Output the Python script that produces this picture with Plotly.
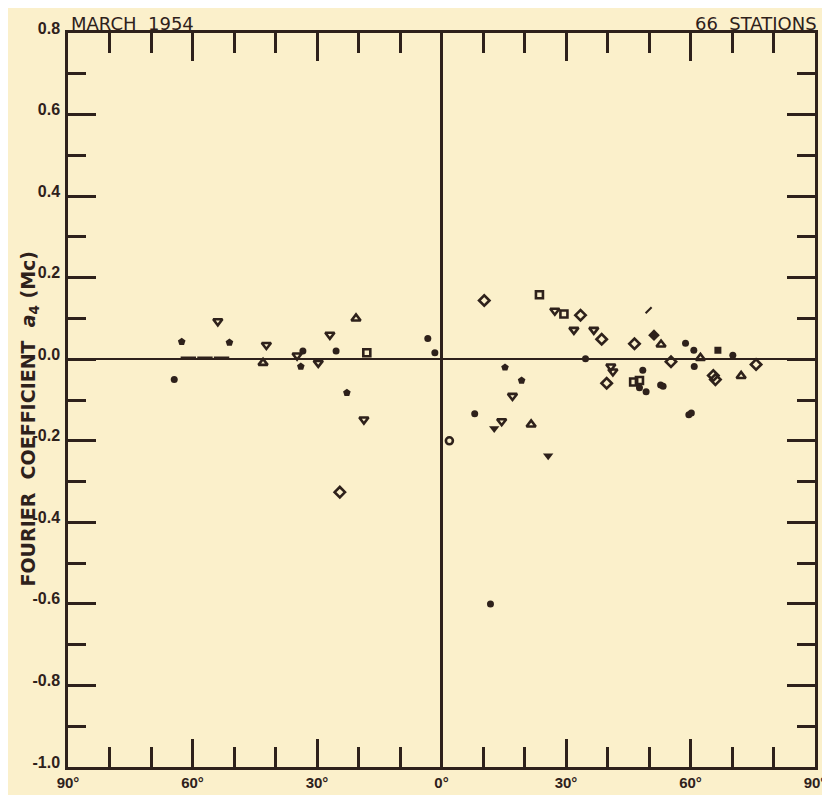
import plotly.graph_objects as go

BG = "#FBF0CB"
INK = "#2E211B"

# ---- tick labels ----
x_tickvals = [-90, -60, -30, 0, 30, 60, 90]
x_ticktext = ["90°", "60°", "30°", "0°", "30°", "60°", "90°"]
y_tickvals = [0.8, 0.6, 0.4, 0.2, 0.0, -0.2, -0.4, -0.6, -0.8, -1.0]
y_ticktext = ["0.8", "0.6", "0.4", "0.2", "0.0", "-0.2", "-0.4", "-0.6", "-0.8", "-1.0"]

# ---- data (latitude in degrees, Fourier coefficient a4 in Mc) ----
dot_lat = [-64.4, -33.4, -25.4, -3.3, -1.6, 34.7, 8.0, 11.8, 58.8, 60.8, 70.2, 60.9,
           48.5, 47.7, 49.3, 52.8, 53.4, 59.6, 60.2]
dot_val = [-0.050, 0.020, 0.020, 0.051, 0.016, 0.001, -0.134, -0.600, 0.039, 0.022, 0.010, -0.018,
           -0.027, -0.070, -0.080, -0.063, -0.066, -0.136, -0.132]

pent_lat = [-62.6, -51.1, -33.9, -22.8, 15.3, 19.3]
pent_val = [0.043, 0.041, -0.018, -0.082, -0.020, -0.052]

fdiam_lat = [51.2]
fdiam_val = [0.059]

fsq_lat = [66.6]
fsq_val = [0.022]

tdown_lat = [-53.9, -42.2, -34.8, -29.7, -26.9, -18.7, 27.3, 31.9, 36.7, 40.8, 41.3, 17.1, 14.5]
tdown_val = [0.093, 0.035, 0.009, -0.009, 0.060, -0.148, 0.119, 0.072, 0.072, -0.018, -0.030, -0.090, -0.152]

ftdown_lat = [12.7, 25.7]
ftdown_val = [-0.170, -0.237]

tup_lat = [-43.0, -20.6, 21.6, 52.9, 62.4, 72.2]
tup_val = [-0.009, 0.100, -0.160, 0.036, 0.003, -0.041]

sq_lat = [-18.0, 23.6, 29.5, 46.3, 47.7]
sq_val = [0.016, 0.158, 0.111, -0.056, -0.052]

diam_lat = [-24.5, 10.3, 33.5, 38.6, 39.8, 46.5, 55.3, 75.8, 65.5, 66.0]
diam_val = [-0.326, 0.144, 0.108, 0.049, -0.059, 0.038, -0.006, -0.013, -0.040, -0.050]

ocirc_lat = [1.9]
ocirc_val = [-0.200]

flat_lat = [-61.0, -57.0, -53.0]
flat_val = [0.003, 0.003, 0.003]

mark_lat = [49.9]
mark_val = [0.120]

fig = go.Figure()

def add(lat, val, symbol, size, lw=0):
    fig.add_trace(go.Scatter(
        x=lat, y=val, mode="markers", showlegend=False, hoverinfo="skip",
        marker=dict(symbol=symbol, size=size, color=INK,
                    line=dict(color=INK, width=lw)),
    ))

add(dot_lat, dot_val, "circle", 7)
add(pent_lat, pent_val, "pentagon", 8)
add(fdiam_lat, fdiam_val, "diamond", 9)
add(fsq_lat, fsq_val, "square", 7)
add(tdown_lat, tdown_val, "triangle-down-open", 8, 2.6)
add(ftdown_lat, ftdown_val, "triangle-down", 9)
add(tup_lat, tup_val, "triangle-up-open", 8, 2.6)
add(sq_lat, sq_val, "square-open", 7, 2.6)
add(diam_lat, diam_val, "diamond-open", 8, 2.6)
add(ocirc_lat, ocirc_val, "circle-open", 7, 2.6)
add(flat_lat, flat_val, "line-ew", 11, 3)
add(mark_lat, mark_val, "line-ne", 6, 2)

tickfont = dict(family="Liberation Sans, Arial, sans-serif", size=16, color=INK, weight="bold")

fig.update_layout(
    width=830, height=795,
    margin=dict(l=60, r=13, t=25, b=24),
    paper_bgcolor=BG, plot_bgcolor=BG,
    xaxis=dict(
        range=[-90, 90], showgrid=False,
        showline=True, linecolor=INK, linewidth=2.5, mirror="ticks",
        ticks="inside", ticklen=28, tickwidth=2.5, tickcolor=INK,
        tickmode="array", tickvals=x_tickvals, ticktext=x_ticktext,
        tickfont=dict(family="Liberation Sans, Arial, sans-serif", size=15, color=INK, weight="bold"),
        minor=dict(dtick=10, tick0=0, ticks="inside", ticklen=20, tickwidth=2.5, tickcolor=INK, showgrid=False),
        zeroline=True, zerolinecolor=INK, zerolinewidth=2.5,
    ),
    yaxis=dict(
        range=[-1.0, 0.8], showgrid=False,
        showline=True, linecolor=INK, linewidth=2.5, mirror="ticks",
        ticks="inside", ticklen=28, tickwidth=2.5, tickcolor=INK,
        tickmode="array", tickvals=y_tickvals, ticktext=y_ticktext,
        tickfont=tickfont, ticklabelshift=-5, ticklabelstandoff=2,
        minor=dict(dtick=0.1, tick0=0, ticks="inside", ticklen=18, tickwidth=2.5, tickcolor=INK, showgrid=False),
        zeroline=True, zerolinecolor=INK, zerolinewidth=1.5,
    ),
    annotations=[
        dict(text="MARCH  1954", xref="paper", yref="paper", x=0, y=1,
             xanchor="left", yanchor="bottom", showarrow=False, xshift=1, yshift=-3,
             font=dict(family="DejaVu Sans, sans-serif", size=18, color=INK)),
        dict(text="66  STATIONS", xref="paper", yref="paper", x=1, y=1,
             xanchor="right", yanchor="bottom", showarrow=False, xshift=4, yshift=-3,
             font=dict(family="DejaVu Sans, sans-serif", size=18, color=INK)),
        dict(text="FOURIER  COEFFICIENT  <i>a</i><sub>4</sub> (Mc)", xref="paper", yref="paper",
             x=-0.052, y=0.475, xanchor="center", yanchor="middle", textangle=-90, showarrow=False,
             font=dict(family="DejaVu Sans, sans-serif", size=19, color=INK, weight="bold")),
    ],
)

fig.write_html("out.html")
